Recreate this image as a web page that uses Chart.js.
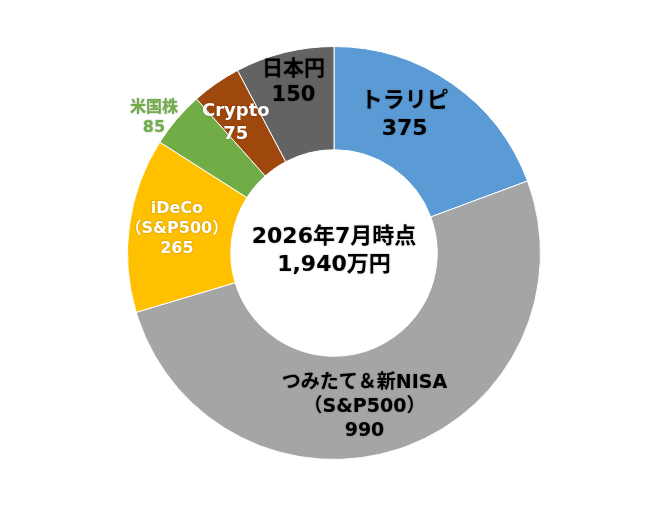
<!DOCTYPE html>
<html>
<head>
<meta charset="utf-8">
<script src="https://cdn.jsdelivr.net/npm/chart.js@4/dist/chart.umd.min.js"></script>
<style>
  html, body { margin: 0; padding: 0; background: #fff; }
  #wrap { width: 668px; height: 507px; }
</style>
</head>
<body>
<div id="wrap"><canvas id="myChart"></canvas></div>
<script>
const categories = ["トラリピ", "つみたて＆新NISA|（S&P500）", "iDeCo|（S&P500）", "米国株", "Crypto", "日本円"];
const amounts = [375, 990, 265, 85, 75, 150];
const colors = ["#5B9BD5", "#A5A5A5", "#FFC000", "#70AD47", "#9E480E", "#636363"];
const centerLines = ["2026年7月時点", "1,940万円"];

// label look per slice: colour, font size, where along the slice (0..1) and how far out (x outer radius)
const labelColors = ["#000", "#000", "#fff", "#70AD47", "#fff", "#000"];
const labelSizes = [22, 19, 16, 16, 18, 21];
const labelAlong = [0.39, 0.54, 0.52, 0.28, 0.34, 0.52];
const labelRadius = [0.75, 0.76, 0.77, 1.09, 0.79, 0.85];

const fontName = "'DejaVu Sans', 'Noto Sans CJK JP', sans-serif";

const sliceLabels = {
  id: "sliceLabels",
  afterDatasetsDraw(chart) {
    const ctx = chart.ctx;
    const meta = chart.getDatasetMeta(0);
    ctx.save();
    ctx.textAlign = "center";
    ctx.textBaseline = "middle";
    ctx.shadowColor = "rgba(0,0,0,0.3)";
    ctx.shadowBlur = 2;
    meta.data.forEach((arc, i) => {
      const p = arc.getProps(["x", "y", "startAngle", "endAngle", "outerRadius"], true);
      const ang = p.startAngle + (p.endAngle - p.startAngle) * labelAlong[i];
      const r = p.outerRadius * labelRadius[i];
      const x = p.x + Math.cos(ang) * r;
      const y = p.y + Math.sin(ang) * r;
      const lines = categories[i].split("|").concat([String(amounts[i])]);
      const lh = labelSizes[i] * 1.25;
      ctx.font = "bold " + labelSizes[i] + "px " + fontName;
      ctx.fillStyle = labelColors[i];
      lines.forEach((t, k) => {
        ctx.fillText(t, x, y + (k - (lines.length - 1) / 2) * lh);
      });
    });
    // centre text
    const c = meta.data[0];
    ctx.font = "bold 22px " + fontName;
    ctx.fillStyle = "#000";
    ctx.fillText(centerLines[0], c.x, c.y - 16);
    ctx.fillText(centerLines[1], c.x, c.y + 12);
    ctx.restore();
  }
};

function createChart() {
  const ctx = document.getElementById("myChart");
  new Chart(ctx, {
    type: "doughnut",
    data: {
      labels: categories,
      datasets: [
        {
          data: amounts,
          backgroundColor: colors,
          borderColor: "#fff",
          borderWidth: 1,
        },
      ],
    },
    options: {
      responsive: true,
      maintainAspectRatio: false,
      animation: false,
      cutout: "50%",
      layout: { padding: { top: 46, bottom: 47 } },
      plugins: {
        legend: { display: false },
        tooltip: { enabled: false },
      },
    },
    plugins: [sliceLabels],
  });
}

createChart();
</script>
</body>
</html>
